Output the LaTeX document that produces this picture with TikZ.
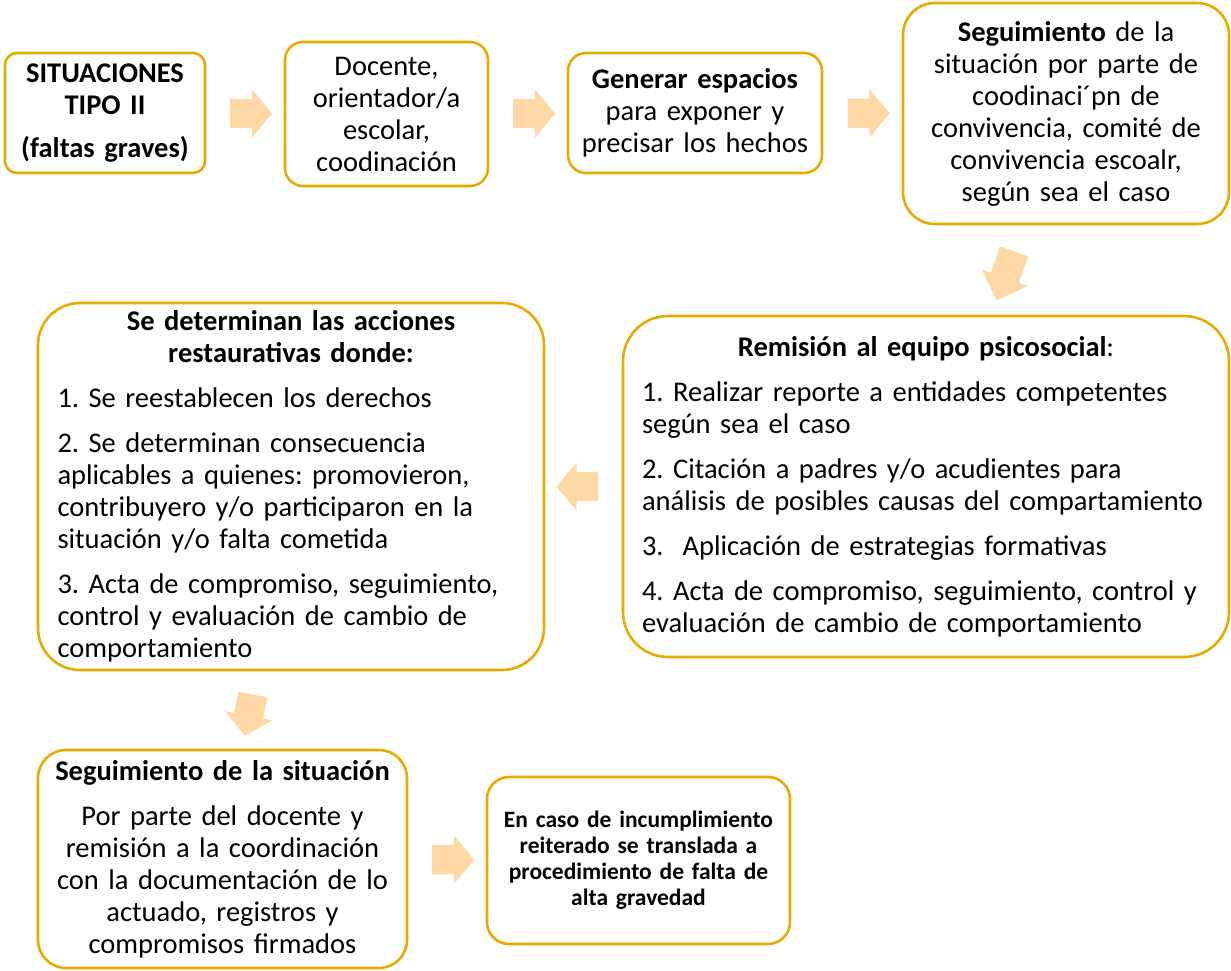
\documentclass[tikz,border=0pt]{standalone}
\usepackage{fontspec}
\setmainfont{Carlito}
\usetikzlibrary{shapes.arrows,calc}
\definecolor{bordergold}{RGB}{230,170,0}
\definecolor{arrowpeach}{RGB}{255,217,165}
\newcommand\jline[2]{\makebox[#1][s]{#2}}
\newcommand\lline[2]{\makebox[#1][l]{#2}}
\frenchspacing
\begin{document}
\begin{tikzpicture}[x=1pt,y=-1pt,
  box/.style={draw=bordergold, line width=2.6pt, fill=white, inner sep=0pt,
    align=center, font=\fontsize{28.5}{32}\selectfont},
  blockarrow/.style={single arrow, fill=arrowpeach, draw=none, inner sep=0pt,
    text height=14.5pt, text depth=14.5pt,
    minimum height=42pt, minimum width=48pt, single arrow head extend=9.5pt,
    single arrow tip angle=100, anchor=center}
]
\useasboundingbox (0,0) rectangle (1231,970);

\node[box, rounded corners=12pt, minimum width=200pt, minimum height=120pt,
  text width=190pt, font=\fontsize{28.5}{32}\selectfont\bfseries] (b1) at (105,113)
  {SITUACIONES\\ TIPO II\\[11pt] (faltas graves)};

\node[box, rounded corners=18pt, minimum width=203pt, minimum height=144pt,
  text width=190pt] (b2) at (386.5,114)
  {Docente,\\ orientador/a\\ escolar,\\ coodinación};

\node[box, rounded corners=18pt, minimum width=254pt, minimum height=120pt,
  text width=244pt] (b3) at (695,113)
  {\textbf{Generar espacios}\\ para exponer y\\ precisar los hechos};

\node[box, rounded corners=32pt, minimum width=326pt, minimum height=221pt,
  text width=316pt] (b4) at (1066,113.5)
  {\textbf{Seguimiento} de la\\ situación por parte de\\ coodinaci´pn de\\
   convivencia, comité de\\ convivencia escoalr,\\ según sea el caso};

\node[box, rounded corners=45pt, minimum width=606pt, minimum height=341pt,
  text width=568pt] (b5) at (926,486.5)
  {\textbf{Remisión al equipo psicosocial}:\\[13pt]
   \jline{568pt}{1. Realizar reporte a entidades competentes}\\
   \lline{568pt}{según sea el caso}\\[13pt]
   \jline{568pt}{2. Citación a padres y/o acudientes para}\\
   \lline{568pt}{análisis de posibles causas del compartamiento}\\[13pt]
   \lline{568pt}{3.\ \ Aplicación de estrategias formativas}\\[13pt]
   \jline{568pt}{4. Acta de compromiso, seguimiento, control y}\\
   \lline{568pt}{evaluación de cambio de comportamiento}};

\node[box, rounded corners=42pt, minimum width=506pt, minimum height=367pt,
  text width=467pt] (b6) at (291,486.5)
  {\textbf{Se determinan las acciones}\\ \textbf{restaurativas donde:}\\[13pt]
   \lline{467pt}{1. Se reestablecen los derechos}\\[13pt]
   \jline{467pt}{2. Se determinan consecuencia}\\
   \jline{467pt}{aplicables a quienes: promovieron,}\\
   \jline{467pt}{contribuyero y/o participaron en la}\\
   \lline{467pt}{situación y/o falta cometida}\\[13pt]
   \jline{467pt}{3. Acta de compromiso, seguimiento,}\\
   \jline{467pt}{control y evaluación de cambio de}\\
   \lline{467pt}{comportamiento}};

\node[box, rounded corners=28pt, minimum width=369pt, minimum height=218pt,
  text width=359pt] (b7) at (222.5,859)
  {\textbf{Seguimiento de la situación}\\[13pt]
   Por parte del docente y\\ remisión a la coordinación\\
   con la documentación de lo\\ actuado, registros y\\ compromisos firmados};

\node[box, rounded corners=22pt, minimum width=303pt, minimum height=167pt,
  text width=293pt, font=\fontsize{23.5}{26}\selectfont\bfseries] (b8) at (638.5,860.5)
  {En caso de incumplimiento\\ reiterado se translada a\\
   procedimiento de falta de\\ alta gravedad};

\node[blockarrow] (a1) at ($(b1.east)!0.5!(b2.west)$) {};
\node[blockarrow] (a2) at ($(b2.east)!0.5!(b3.west)$) {};
\node[blockarrow] (a3) at ($(b3.east)!0.5!(b4.west)$) {};
\node[blockarrow, minimum height=52pt, minimum width=49pt,
  single arrow tip angle=91, rotate=250] (a4) at (1008,269) {};
\node[blockarrow, rotate=180] (a5) at ($(b5.west)!0.5!(b6.east)$) {};
\node[blockarrow, rotate=259] (a6) at (250,709) {};
\node[blockarrow] (a7) at ($(b7.east)!0.5!(b8.west)$) {};
\end{tikzpicture}
\end{document}
